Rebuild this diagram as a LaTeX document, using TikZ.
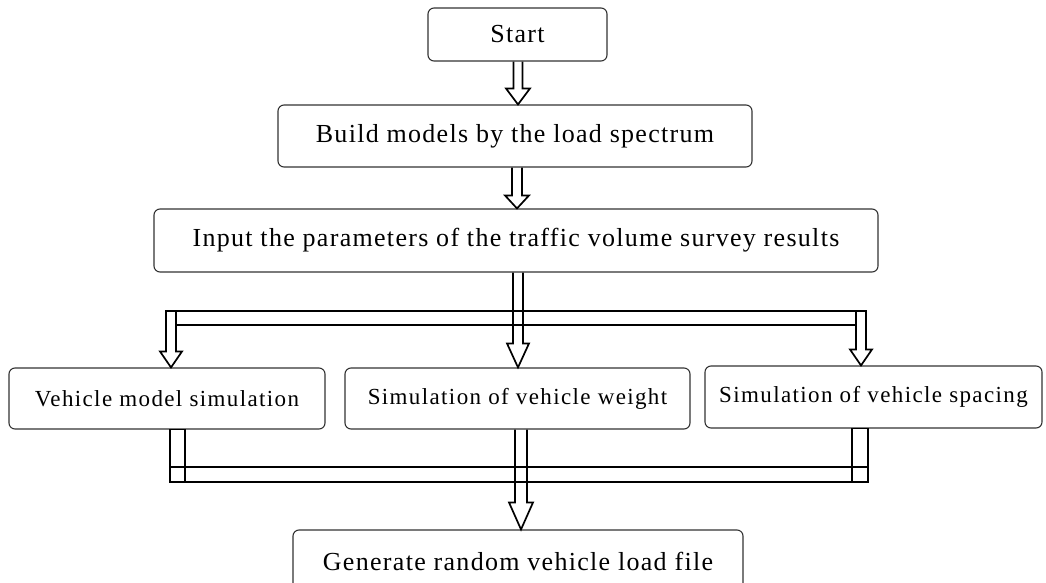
\documentclass[tikz,border=0pt]{standalone}
\usepackage{fontspec}
\setmainfont{Liberation Serif}
\newfontfamily\lblfont[LetterSpace=5]{Liberation Serif}
\newfontfamily\smlfont[LetterSpace=6]{Liberation Serif}
\usetikzlibrary{calc}
\tikzset{
  box/.style={draw=black!80, line width=1.1pt, rounded corners=6pt, inner sep=0pt,
    font=\lblfont\fontsize{26}{30}\selectfont, text=black},
  smallbox/.style={box, font=\smlfont\fontsize{23}{27}\selectfont},
  arrowline/.style={draw=black, line width=1.7pt, line join=miter},
}
% hollow block arrow: #1 = top point, #2 = tip point (same x), #3 shaft half width, #4 head half width, #5 head length
\newcommand\harrow[5]{%
  \draw[arrowline] ($(#1)+(-#3,0)$) -- ($(#2)+(-#3,-#5)$) -- ($(#2)+(-#4,-#5)$) -- (#2)
    -- ($(#2)+(#4,-#5)$) -- ($(#2)+(#3,-#5)$) -- ($(#1)+(#3,0)$);}
\begin{document}
\begin{tikzpicture}[x=1pt,y=-1pt]
\useasboundingbox (0,0) rectangle (1046,583);
\clip (0,0) rectangle (1046,583);
% nodes
\node[box, minimum width=179pt, minimum height=53pt] (start) at (517.5,34.5) {Start};
\node[box, minimum width=474pt, minimum height=62pt] (build) at (515,136) {Build models by the load spectrum};
\node[box, minimum width=724pt, minimum height=63pt] (input) at (516,240.5) {Input the parameters of the traffic volume survey results};
\node[smallbox, minimum width=316pt, minimum height=61pt] (vm) at (167,398.5) {Vehicle model simulation};
\node[smallbox, minimum width=345pt, minimum height=61pt] (vw) at (517.5,398.5) {Simulation of vehicle weight};
\node[smallbox, minimum width=337pt, minimum height=62pt] (vs) at (873.5,397) {Simulation of vehicle spacing};
\node[box, minimum width=450pt, minimum height=62pt] (gen) at (518,561) {Generate random vehicle load file};
% straight arrows
\coordinate (a1) at ($(start.south)+(0.5,0)$);
\harrow{a1}{a1 |- build.north}{4.5}{12}{16}
\coordinate (a2) at ($(build.south)+(2,0)$);
\harrow{a2}{a2 |- input.north}{5}{12}{13}
% upper distribution bar
\coordinate (a3) at ($(input.south)+(2,0)$);
\coordinate (ul) at (171,311);
\coordinate (ur) at (861,311);
\draw[arrowline] ($(ul)+(5,14)$) -- ($(ul |- vm.north)+(5,-16)$) -- ($(ul |- vm.north)+(11,-16)$) -- (ul |- vm.north)
  -- ($(ul |- vm.north)+(-11,-16)$) -- ($(ul |- vm.north)+(-5,-16)$) -- ($(ul)+(-5,0)$)
  -- ($(ur)+(5,0)$) -- ($(ur |- vs.north)+(5,-16)$) -- ($(ur |- vs.north)+(11,-16)$) -- (ur |- vs.north)
  -- ($(ur |- vs.north)+(-11,-16)$) -- ($(ur |- vs.north)+(-5,-16)$) -- ($(ur)+(-5,14)$) -- cycle;
\draw[arrowline] ($(ul)+(5,0)$) -- ($(ul)+(5,14)$);
\draw[arrowline] ($(ur)+(-5,0)$) -- ($(ur)+(-5,14)$);
\harrow{a3}{a3 |- vw.north}{5}{11}{24}
% lower collecting bar
\coordinate (ll) at (177.5,482);
\coordinate (lr) at (860,482);
\draw[arrowline] ($(vm.south -| ll)+(-7.5,0)$) rectangle ($(ll)+(7.5,0)$);
\draw[arrowline] ($(vs.south -| lr)+(-8,0)$) rectangle ($(lr)+(8,0)$);
\draw[arrowline] ($(ll)+(-7.5,-15)$) -- ($(lr)+(8,-15)$);
\draw[arrowline] ($(ll)+(-7.5,0)$) -- ($(lr)+(8,0)$);
\coordinate (a4) at ($(vw.south)+(3.5,0)$);
\harrow{a4}{a4 |- gen.north}{6}{12}{27}
\end{tikzpicture}
\end{document}
